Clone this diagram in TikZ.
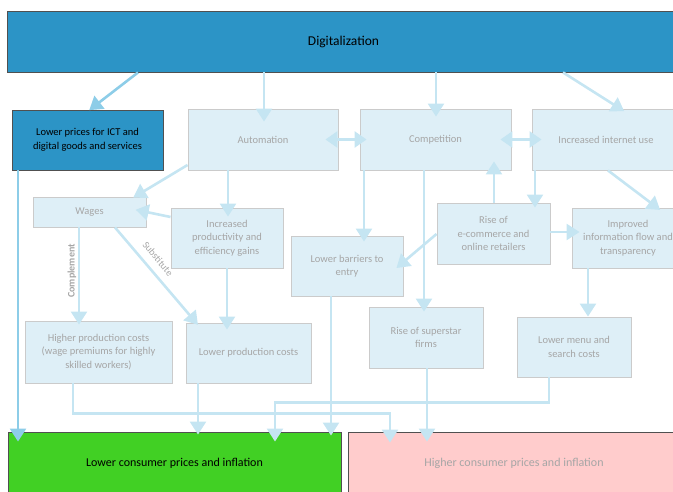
\documentclass[tikz,border=0pt]{standalone}
\usepackage{fontspec}
\setmainfont{Carlito}
\usetikzlibrary{arrows.meta,calc}
\definecolor{digblue}{HTML}{2C94C6}
\definecolor{lightfill}{HTML}{DEEFF7}
\definecolor{boxline}{HTML}{CBCBCB}
\definecolor{lighttext}{HTML}{A6A6A6}
\definecolor{darkline}{HTML}{505050}
\definecolor{greenfill}{HTML}{41D024}
\definecolor{pinkfill}{HTML}{FFCCCC}
\definecolor{arrowc}{HTML}{C5E5F2}
\definecolor{arrowdark}{HTML}{8DCDE8}
\begin{document}
\begin{tikzpicture}[x=1pt,y=-1pt,
  lbox/.style={draw=boxline, line width=0.9pt, fill=lightfill, text=lighttext,
    font=\fontsize{10.5}{13.5}\selectfont, align=center, inner sep=2pt},
  bigbox/.style={draw=darkline, line width=0.9pt, align=center, inner sep=2pt},
  arr/.style={draw=arrowc, line width=2.6pt, -{Triangle[length=13pt,width=16pt]}},
  darr/.style={draw=arrowc, line width=2.6pt, {Triangle[length=12pt,width=16pt]}-{Triangle[length=12pt,width=16pt]}},
  dkarr/.style={draw=arrowdark, line width=2.6pt, -{Triangle[length=13pt,width=16pt]}},
  ext/.style={shorten >=-#1pt},
  lbl/.style={text=lighttext, font=\fontsize{10}{12}\selectfont, inner sep=1pt}]
\useasboundingbox (0,0) rectangle (673,492);
% top
\node[bigbox, fill=digblue, minimum width=673pt, minimum height=61pt, font=\fontsize{13.5}{16}\selectfont] (dig) at (343.5,41.5) {Digitalization};
\node[bigbox, fill=digblue, minimum width=151pt, minimum height=60pt, font=\fontsize{10.5}{13.5}\selectfont] (ict) at (87.5,140) {Lower prices for ICT and\\digital goods and services};
\node[lbox, minimum width=150pt, minimum height=61pt] (auto) at (263,139.5) {Automation};
\node[lbox, minimum width=151pt, minimum height=61pt] (comp) at (435.5,139.5) {Competition};
\node[lbox, minimum width=148pt, minimum height=61pt] (inet) at (606,139.5) {Increased internet use};
% middle
\node[lbox, minimum width=113pt, minimum height=30pt] (wages) at (89.5,212) {Wages};
\node[lbox, minimum width=112pt, minimum height=60pt] (prod) at (227,238) {Increased\\productivity and\\efficiency gains};
\node[lbox, minimum width=112pt, minimum height=60pt] (barr) at (347,266) {Lower barriers to\\entry};
\node[lbox, minimum width=113pt, minimum height=61pt] (ecom) at (493.5,233.5) {Rise of\\e-commerce and\\online retailers};
\node[lbox, minimum width=112pt, minimum height=60pt] (info) at (628,238) {Improved\\information flow and\\transparency};
% lower
\node[lbox, minimum width=147pt, minimum height=62pt] (hpc) at (98.5,352) {Higher production costs\\(wage premiums for highly\\skilled workers)};
\node[lbox, minimum width=125pt, minimum height=60pt] (lpc) at (248.5,353) {Lower production costs};
\node[lbox, minimum width=114pt, minimum height=61pt] (star) at (426,337.5) {Rise of superstar\\firms};
\node[lbox, minimum width=114pt, minimum height=60pt] (menu) at (574,347) {Lower menu and\\search costs};
% bottom
\node[bigbox, fill=greenfill, minimum width=333pt, minimum height=62pt, font=\fontsize{12}{14}\selectfont] (lcp) at (174.5,463) {Lower consumer prices and inflation};
\node[bigbox, fill=pinkfill, text=lighttext, minimum width=332pt, minimum height=62pt, font=\fontsize{12}{14}\selectfont] (hcp) at (514,463) {Higher consumer prices and inflation};
% labels
\node[lbl, font=\bfseries\fontsize{10}{12}\selectfont, rotate=90] (lcomp) at (72,271) {Complement};
\node[lbl, rotate=-50] (lsubst) at (158,259) {Substitute};
% arrows from digitalization
\draw[dkarr, ext=1] (dig.south -| 138,0) -- (ict.north -| 90,0);
\draw[arr, ext=13] (dig.south -| 264,0) -- (auto.north -| 264,0);
\draw[arr, ext=8] (dig.south -| 436,0) -- (comp.north -| 436,0);
\draw[arr, ext=5] (dig.south -| 563,0) -- (inet.north -| 620,0);
\draw[darr, shorten <=-13pt, shorten >=-7pt] (auto.east) -- (comp.west);
\draw[darr, shorten <=-11pt, shorten >=-10pt] (comp.east) -- (inet.west);
% automation
\draw[arr, ext=2] (auto.west |- 0,165) -- (wages.north -| 135,0);
\draw[arr, ext=9] (auto.south -| 228,0) -- (prod.north -| 228,0);
\draw[arr, ext=11] (prod.west |- 0,217) -- (wages.east);
% wages
\draw[arr, ext=4] (wages.south -| 79,0) -- (hpc.north -| 79,0);
\draw[arr, ext=3] (wages.south -| 115,0) -- (lpc.north -| 196,0);
\draw[arr, ext=7] (prod.south -| 227,0) -- (lpc.north -| 227,0);
% competition
\draw[arr, ext=6] (comp.south -| 364,0) -- (barr.north -| 364,0);
\draw[arr, ext=5] (comp.south -| 424,0) -- (star.north -| 424,0);
\draw[arr, ext=9] (ecom.north -| 494,0) -- (comp.south -| 494,0);
\draw[arr, ext=5] (inet.south -| 535,0) -- (ecom.north -| 535,0);
\draw[arr, ext=4] (inet.south -| 608,0) -- (info.north -| 657,0);
\draw[arr, ext=8] (ecom.east |- 0,232) -- (info.west |- 0,232);
\draw[arr] (ecom.west |- 0,234) -- ($(barr.east)+(-7,2)$);
\draw[arr] (info.south -| 588,0) -- (menu.north -| 588,0);
% to bottom
\draw[dkarr, ext=10] (ict.south -| 18,0) -- (lcp.north -| 18,0);
\draw[arr, ext=4] (barr.south -| 331,0) -- (lcp.north -| 331,0);
\draw[arr, ext=3] (lpc.south -| 198,0) -- (lcp.north -| 198,0);
\draw[arr, ext=11] (hpc.south -| 73,0) |- ($(hcp.north -| 390,0)+(0,-18)$) -- (hcp.north -| 390,0);
\draw[arr, ext=10] (menu.south -| 549,0) |- ($(lcp.north -| 275,0)+(0,-29)$) -- (lcp.north -| 275,0);
\draw[arr, ext=10] (star.south -| 427,0) -- (hcp.north -| 427,0);
\end{tikzpicture}
\end{document}
